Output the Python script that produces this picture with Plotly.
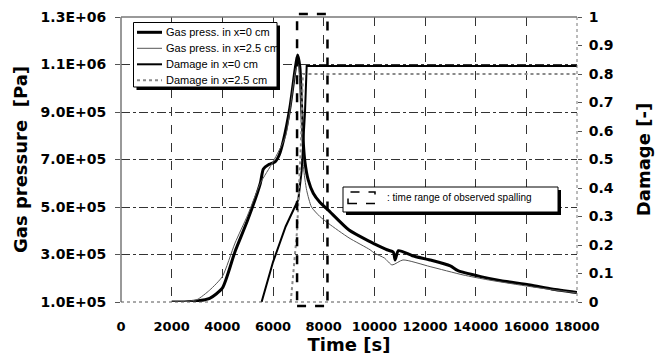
import plotly.graph_objects as go

# ---------------- data ----------------
t_p0 = [2000, 2500, 3000, 3500, 4000, 4500, 5000, 5500, 5620, 5850, 6080, 6250, 6410, 6670, 6870, 6970,
        7060, 7130, 7190, 7260, 7390, 7590, 7850, 8180, 9000, 9830, 10000, 10500, 10750, 10820, 10950,
        11500, 12200, 13000, 13300, 14200, 15000, 16150, 17000, 18000]
p0 = [1.0e5, 1.0e5, 1.04e5, 1.15e5, 1.58e5, 3.12e5, 4.45e5, 6.0e5, 6.6e5, 6.8e5, 6.9e5, 7.2e5, 7.8e5, 9.2e5, 1.077e6, 1.14e6,
      1.09e6, 9.2e5, 7.8e5, 6.9e5, 6.14e5, 5.58e5, 5.2e5, 4.87e5, 4.03e5, 3.54e5, 3.45e5, 3.2e5, 3.1e5, 2.77e5, 3.16e5,
      2.95e5, 2.77e5, 2.52e5, 2.32e5, 2.07e5, 1.9e5, 1.72e5, 1.55e5, 1.4e5]

t_p25 = [2000, 2500, 3000, 3500, 4000, 4500, 5000, 5500, 6000, 6500, 6900, 7000, 7100, 7200, 7330, 7520,
         7850, 8200, 9000, 9830, 10000, 10400, 10700, 11130, 12200, 13500, 14500, 16150, 17000, 18000]
p25 = [1.0e5, 1.01e5, 1.1e5, 1.5e5, 2.07e5, 3.48e5, 4.66e5, 6.0e5, 6.9e5, 8.0e5, 1.08e6, 1.1e6, 9.5e5, 6.7e5, 5.7e5, 5.0e5,
       4.6e5, 4.3e5, 3.7e5, 3.2e5, 3.06e5, 2.85e5, 2.56e5, 2.77e5, 2.49e5, 2.14e5, 1.93e5, 1.65e5, 1.52e5, 1.38e5]

t_d0 = [5550, 6000, 6500, 7000, 7130, 7260, 7330, 18000]
d0 = [0.0, 0.14, 0.265, 0.36, 0.46, 0.66, 0.828, 0.828]

t_d25 = [6700, 6950, 7100, 7180, 18000]
d25 = [0.0, 0.25, 0.55, 0.80, 0.80]

spalling_range = [6950, 8150]

y_tickvals = [1.0e5, 3.0e5, 5.0e5, 7.0e5, 9.0e5, 1.1e6, 1.3e6]
y_ticktext = ["1.0E+05", "3.0E+05", "5.0E+05", "7.0E+05", "9.0E+05", "1.1E+06", "1.3E+06"]
y2_tickvals = [0, 0.1, 0.2, 0.3, 0.4, 0.5, 0.6, 0.7, 0.8, 0.9, 1]
y2_ticktext = ["0", "0.1", "0.2", "0.3", "0.4", "0.5", "0.6", "0.7", "0.8", "0.9", "1"]
x_tickvals = list(range(0, 18001, 2000))

legend_names = ["Gas press. in x=0 cm", "Gas press. in x=2.5 cm", "Damage in x=0 cm", "Damage in x=2.5 cm"]
styles = [dict(color="black", width=3), dict(color="#555555", width=1),
          dict(color="black", width=2), dict(color="#8a8a8a", width=2, dash="dot")]

# ---------------- layout geometry ----------------
W, H = 660, 362
L, R, T, B = 121, 83, 17, 60
PW, PH = W - L - R, H - T - B

def px(x):
    return (x - L) / PW

def py(y):
    return (H - B - y) / PH

fig = go.Figure()
fig.add_trace(go.Scatter(x=t_p0, y=p0, mode="lines", line=dict(shape="spline", smoothing=0.6, **styles[0]),
                         name=legend_names[0], showlegend=False))
fig.add_trace(go.Scatter(x=t_p25, y=p25, mode="lines", line=dict(shape="spline", smoothing=0.6, **styles[1]),
                         name=legend_names[1], showlegend=False))
fig.add_trace(go.Scatter(x=t_d0, y=d0, mode="lines", line=styles[2], yaxis="y2",
                         name=legend_names[2], showlegend=False))
fig.add_trace(go.Scatter(x=t_d25, y=d25, mode="lines", line=styles[3], yaxis="y2",
                         name=legend_names[3], showlegend=False))

tickfont = dict(family="DejaVu Sans", size=14, color="black", weight="bold")
xtickfont = dict(family="DejaVu Sans", size=13, color="black", weight="bold")
titlefont = dict(family="DejaVu Sans", size=18, color="black", weight="bold")

fig.update_layout(
    width=W, height=H,
    margin=dict(l=L, r=R, t=T, b=B),
    paper_bgcolor="white", plot_bgcolor="white",
    showlegend=False,
    xaxis=dict(range=[0, 18000], tickvals=x_tickvals, ticktext=[str(v) for v in x_tickvals], tickangle=0,
               showgrid=True, gridcolor="#333333", gridwidth=0.8, griddash="dash",
               zeroline=False, showline=False, ticks="", tickfont=xtickfont, ticklabelstandoff=15,
               title=dict(text="Time [s]", font=titlefont, standoff=4), automargin=False),
    yaxis=dict(range=[1.0e5, 1.3e6], tickvals=y_tickvals, ticktext=y_ticktext,
               showgrid=True, gridcolor="#333333", gridwidth=0.8, griddash="dashdot",
               zeroline=False, showline=False, ticks="outside", ticklen=5, tickcolor="#555555",
               tickfont=tickfont, ticklabelstandoff=6,
               title=dict(text="Gas pressure  [Pa]", font=titlefont, standoff=8), automargin=False),
    yaxis2=dict(range=[0, 1], overlaying="y", side="right", tickvals=y2_tickvals, ticktext=y2_ticktext,
                showgrid=False, zeroline=False, showline=False, ticks="outside", ticklen=4, tickcolor="#555555",
                tickfont=tickfont, ticklabelstandoff=4,
                title=dict(text="Damage [-]", font=titlefont, standoff=24), automargin=False),
)

shapes = []
# frame
shapes.append(dict(type="line", xref="paper", yref="paper", x0=0, x1=0, y0=0, y1=1, line=dict(color="#777777", width=1.5)))
shapes.append(dict(type="line", xref="paper", yref="paper", x0=0, x1=1, y0=1, y1=1, line=dict(color="#777777", width=1.5)))
shapes.append(dict(type="line", xref="paper", yref="paper", x0=1, x1=1, y0=0, y1=1, line=dict(color="#777777", width=1, dash="dot")))
shapes.append(dict(type="line", xref="paper", yref="paper", x0=0, x1=1, y0=0, y1=0, line=dict(color="#555555", width=1, dash="dot")))
# spalling range box
shapes.append(dict(type="rect", xref="x", yref="paper", x0=spalling_range[0], x1=spalling_range[1],
                   y0=py(306), y1=py(14), line=dict(color="black", width=2.5, dash="dash")))

# legend 1 (shadow + box)
lx0, lx1, ly0, ly1 = 133.5, 277, 22.5, 87
shapes.append(dict(type="rect", xref="paper", yref="paper", x0=px(lx0 + 3), x1=px(lx1 + 3), y0=py(ly1 + 3), y1=py(ly0 + 3),
                   fillcolor="black", line=dict(width=0)))
shapes.append(dict(type="rect", xref="paper", yref="paper", x0=px(lx0), x1=px(lx1), y0=py(ly1), y1=py(ly0),
                   fillcolor="white", line=dict(color="black", width=1)))
rows = [32.3, 48.3, 64.3, 80.3]
annotations = []
for name, st, ry in zip(legend_names, styles, rows):
    shapes.append(dict(type="line", xref="paper", yref="paper", x0=px(137), x1=px(162), y0=py(ry), y1=py(ry), line=st))
    annotations.append(dict(xref="paper", yref="paper", x=px(163.5), y=py(ry), text=name, showarrow=False,
                            xanchor="left", yanchor="middle", font=dict(family="Liberation Sans", size=11, color="black")))

# legend 2 (spalling)
sx0, sx1, sy0, sy1 = 343, 558, 187, 212
shapes.append(dict(type="rect", xref="paper", yref="paper", x0=px(sx0 + 3), x1=px(sx1 + 3), y0=py(sy1 + 3), y1=py(sy0 + 3),
                   fillcolor="black", line=dict(width=0)))
shapes.append(dict(type="rect", xref="paper", yref="paper", x0=px(sx0), x1=px(sx1), y0=py(sy1), y1=py(sy0),
                   fillcolor="white", line=dict(color="black", width=1)))
shapes.append(dict(type="rect", xref="paper", yref="paper", x0=px(348), x1=px(375), y0=py(203.5), y1=py(192),
                   line=dict(color="black", width=1.5, dash="dash")))
annotations.append(dict(xref="paper", yref="paper", x=px(385), y=py(197), text=": time range of observed spalling",
                        showarrow=False, xanchor="left", yanchor="middle",
                        font=dict(family="Liberation Sans", size=10, color="black")))

fig.update_layout(shapes=shapes, annotations=annotations)
fig.write_html("out.html")
